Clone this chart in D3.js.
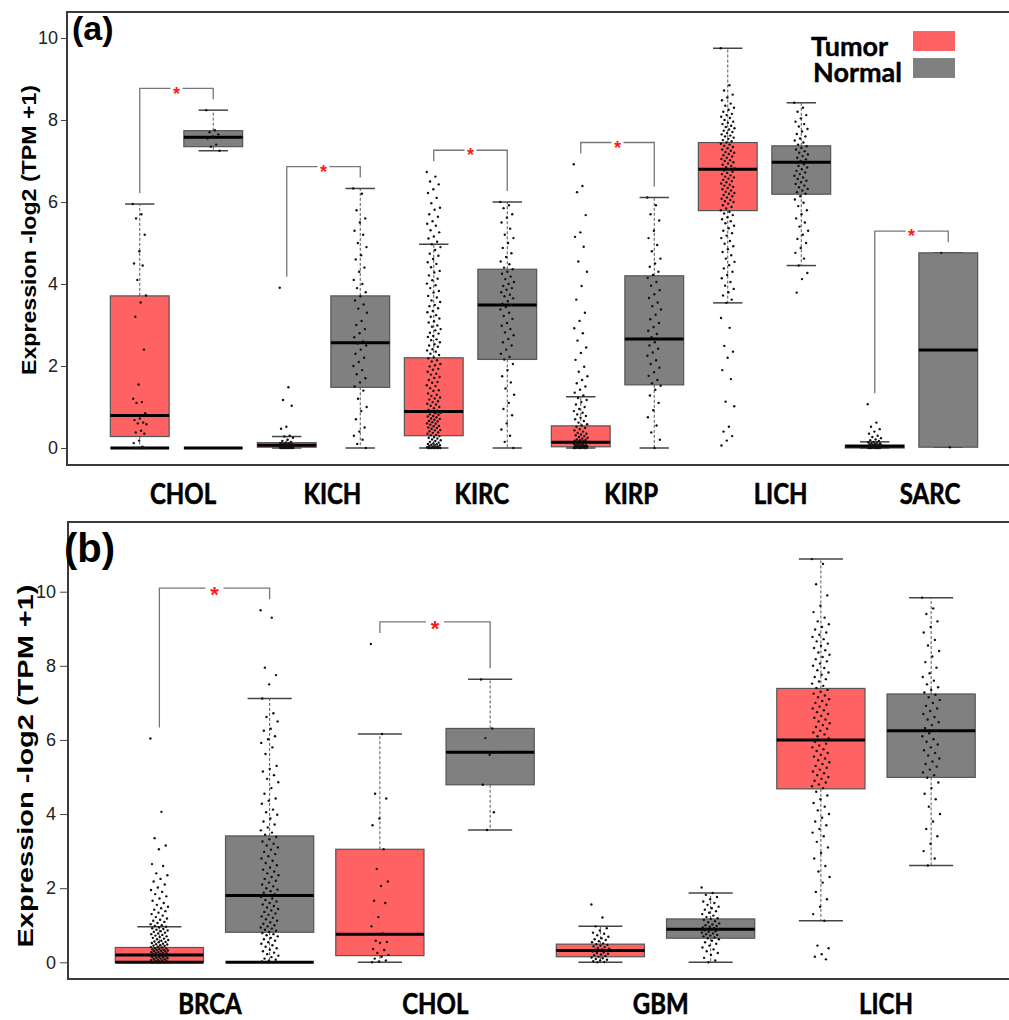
<!DOCTYPE html>
<html>
<head>
<meta charset="utf-8">
<script src="https://cdn.jsdelivr.net/npm/d3@7"></script>
<style>
  body { margin: 0; background: #fff; }
  svg { display: block; }
</style>
</head>
<body>
<svg id="chart" width="1009" height="1020"></svg>
<script>
// ---- data, panel (a) ----
var catsA = ['CHOL', 'KICH', 'KIRC', 'KIRP', 'LICH', 'SARC'];
var groups = ['Tumor', 'Normal'];
// [lower whisker, q1, median, q3, upper whisker]
var tumorBoxA = [
    [0, 0.28, 0.79, 3.71, 5.95],
    [0, 0.02, 0.07, 0.13, 0.28],
    [0, 0.30, 0.89, 2.20, 4.97],
    [0, 0.03, 0.14, 0.54, 1.25],
    [3.54, 5.79, 6.80, 7.45, 9.75],
    [0, 0.00, 0.04, 0.07, 0.15]
];
var normalBoxA = [
    [7.25, 7.35, 7.58, 7.74, 8.24],
    [0, 1.48, 2.57, 3.71, 6.33],
    [0, 2.16, 3.49, 4.36, 6.00],
    [0, 1.54, 2.66, 4.20, 6.11],
    [4.45, 6.19, 6.97, 7.37, 8.42],
    [0.02, 0.02, 2.39, 4.76, 4.76]
];
var tumorPtsA = [
    [5.95, 5.7, 5.6, 5.2, 4.8, 4.5, 4.45, 4.1, 3.72, 3.55, 3.2, 2.4, 1.55, 1.2, 1.12, 1.1, 0.85, 0.72, 0.68, 0.62, 0.6, 0.58, 0.42, 0.38, 0.35, 0.18, 0.12, 0.03, 0, 0, 0, 0, 0],
    [3.91, 1.48, 1.17, 1.03, 0.52, 0.47, 0.3, 0.28, 0.25, 0.2, 0.17, 0.15, 0.13, 0.12, 0.11, 0.1, 0.1, 0.09, 0.09, 0.08, 0.08, 0.07, 0.07, 0.06, 0.06, 0.06, 0.05, 0.05, 0.05, 0.04, 0.04, 0.04, 0.03, 0.03, 0.03, 0.02, 0.02, 0.02, 0.01, 0.01, 0.01, 0.01, 0, 0, 0, 0, 0, 0, 0, 0],
    [6.73, 6.62, 6.5, 6.43, 6.31, 6.22, 6.1, 5.97, 5.86, 5.81, 5.7, 5.64, 5.53, 5.47, 5.42, 5.31, 5.26, 5.16, 5.11, 5.03, 4.97, 4.9, 4.83, 4.74, 4.69, 4.61, 4.53, 4.49, 4.41, 4.32, 4.28, 4.21, 4.13, 4.09, 4.01, 3.97, 3.9, 3.83, 3.79, 3.71, 3.67, 3.6, 3.56, 3.49, 3.46, 3.41, 3.34, 3.31, 3.24, 3.2, 3.16, 3.09, 3.06, 2.99, 2.96, 2.9, 2.87, 2.81, 2.79, 2.73, 2.71, 2.65, 2.63, 2.58, 2.53, 2.5, 2.47, 2.41, 2.38, 2.35, 2.3, 2.27, 2.21, 2.19, 2.14, 2.11, 2.05, 2.02, 1.99, 1.93, 1.91, 1.86, 1.81, 1.79, 1.73, 1.71, 1.66, 1.61, 1.59, 1.53, 1.51, 1.46, 1.41, 1.39, 1.33, 1.3, 1.27, 1.23, 1.21, 1.18, 1.14, 1.12, 1.08, 1.06, 1.03, 1.0, 0.97, 0.93, 0.91, 0.89, 0.86, 0.85, 0.82, 0.81, 0.78, 0.77, 0.75, 0.72, 0.71, 0.69, 0.66, 0.65, 0.63, 0.6, 0.59, 0.57, 0.54, 0.53, 0.5, 0.49, 0.47, 0.44, 0.43, 0.41, 0.38, 0.37, 0.35, 0.32, 0.31, 0.29, 0.27, 0.25, 0.23, 0.21, 0.19, 0.17, 0.15, 0.13, 0.11, 0.1, 0.09, 0.08, 0.07, 0.06, 0.05, 0.04, 0.03, 0.02, 0.02, 0.01, 0.01, 0, 0, 0, 0, 0, 0, 0, 0],
    [6.92, 6.39, 6.24, 5.68, 5.26, 5.15, 4.91, 4.55, 4.3, 3.95, 3.62, 3.3, 3.1, 2.92, 2.8, 2.62, 2.45, 2.32, 2.15, 1.98, 1.86, 1.75, 1.66, 1.58, 1.5, 1.42, 1.35, 1.28, 1.22, 1.17, 1.12, 1.06, 1.0, 0.95, 0.9, 0.86, 0.82, 0.78, 0.74, 0.7, 0.66, 0.62, 0.58, 0.55, 0.52, 0.49, 0.46, 0.43, 0.4, 0.37, 0.35, 0.33, 0.31, 0.29, 0.27, 0.25, 0.23, 0.21, 0.2, 0.19, 0.18, 0.17, 0.16, 0.15, 0.14, 0.13, 0.12, 0.11, 0.1, 0.09, 0.08, 0.07, 0.07, 0.06, 0.05, 0.05, 0.04, 0.04, 0.03, 0.03, 0.02, 0.02, 0.01, 0.01, 0, 0, 0, 0, 0, 0],
    [9.75, 8.85, 8.72, 8.62, 8.55, 8.48, 8.4, 8.35, 8.3, 8.25, 8.2, 8.15, 8.12, 8.08, 8.05, 8.0, 7.96, 7.93, 7.9, 7.86, 7.83, 7.8, 7.77, 7.74, 7.71, 7.68, 7.65, 7.62, 7.6, 7.57, 7.54, 7.51, 7.48, 7.45, 7.42, 7.4, 7.37, 7.34, 7.31, 7.28, 7.25, 7.22, 7.2, 7.17, 7.14, 7.11, 7.08, 7.05, 7.02, 7.0, 6.97, 6.94, 6.91, 6.88, 6.85, 6.82, 6.8, 6.77, 6.74, 6.71, 6.68, 6.65, 6.62, 6.6, 6.57, 6.54, 6.51, 6.48, 6.45, 6.42, 6.4, 6.37, 6.34, 6.31, 6.28, 6.25, 6.22, 6.2, 6.17, 6.14, 6.11, 6.08, 6.05, 6.02, 6.0, 5.96, 5.92, 5.88, 5.84, 5.8, 5.76, 5.72, 5.68, 5.63, 5.58, 5.53, 5.48, 5.42, 5.36, 5.3, 5.24, 5.18, 5.12, 5.05, 4.98, 4.92, 4.85, 4.78, 4.7, 4.62, 4.54, 4.46, 4.38, 4.3, 4.22, 4.14, 4.05, 3.96, 3.88, 3.8, 3.72, 3.62, 3.54, 3.17, 2.93, 2.49, 2.35, 2.2, 1.9, 1.68, 1.13, 1.02, 0.52, 0.4, 0.29, 0.18, 0.06],
    [1.07, 0.62, 0.52, 0.46, 0.4, 0.35, 0.3, 0.27, 0.24, 0.21, 0.19, 0.17, 0.15, 0.14, 0.13, 0.12, 0.11, 0.1, 0.09, 0.08, 0.08, 0.07, 0.07, 0.06, 0.06, 0.05, 0.05, 0.04, 0.04, 0.03, 0.03, 0.02, 0.02, 0.01, 0.01, 0, 0, 0, 0, 0, 0]
];
var normalPtsA = [
    [8.24, 7.75, 7.7, 7.65, 7.6, 7.55, 7.4, 7.35, 7.25],
    [6.33, 6.2, 5.8, 5.6, 5.5, 5.3, 5.2, 5.0, 4.9, 4.7, 4.6, 4.4, 4.3, 4.1, 4.0, 3.9, 3.8, 3.7, 3.6, 3.5, 3.4, 3.3, 3.1, 3.0, 2.9, 2.8, 2.7, 2.6, 2.55, 2.5, 2.4, 2.3, 2.2, 2.1, 2.0, 1.9, 1.8, 1.7, 1.6, 1.5, 1.4, 1.2, 1.0, 0.9, 0.7, 0.5, 0.4, 0.3, 0.2, 0.1, 0],
    [6.0, 5.92, 5.85, 5.7, 5.62, 5.5, 5.35, 5.2, 5.12, 5.0, 4.88, 4.75, 4.66, 4.55, 4.48, 4.4, 4.36, 4.3, 4.25, 4.18, 4.12, 4.05, 4.0, 3.95, 3.9, 3.86, 3.8, 3.74, 3.7, 3.65, 3.58, 3.52, 3.49, 3.44, 3.38, 3.3, 3.22, 3.15, 3.05, 2.98, 2.9, 2.82, 2.75, 2.66, 2.58, 2.5, 2.4, 2.3, 2.22, 2.16, 2.05, 1.9, 1.75, 1.6, 1.45, 1.3, 1.1, 0.95, 0.8, 0.6, 0.45, 0.3, 0.15, 0],
    [6.11, 5.92, 5.7, 5.55, 5.3, 5.12, 4.95, 4.8, 4.62, 4.5, 4.42, 4.3, 4.22, 4.15, 4.05, 3.96, 3.85, 3.75, 3.66, 3.55, 3.46, 3.38, 3.25, 3.14, 3.05, 2.95, 2.86, 2.78, 2.7, 2.65, 2.58, 2.5, 2.42, 2.33, 2.25, 2.14, 2.05, 1.96, 1.85, 1.76, 1.66, 1.58, 1.52, 1.42, 1.28, 1.1, 0.92, 0.75, 0.55, 0.38, 0.2, 0],
    [8.42, 8.3, 8.2, 8.12, 8.04, 7.96, 7.9, 7.84, 7.78, 7.72, 7.66, 7.6, 7.55, 7.5, 7.45, 7.4, 7.36, 7.32, 7.28, 7.24, 7.2, 7.16, 7.12, 7.08, 7.04, 7.0, 6.96, 6.92, 6.88, 6.84, 6.8, 6.76, 6.72, 6.68, 6.64, 6.6, 6.56, 6.52, 6.48, 6.44, 6.4, 6.36, 6.32, 6.28, 6.24, 6.2, 6.14, 6.06, 5.98, 5.9, 5.8, 5.7, 5.6, 5.5, 5.4, 5.3, 5.2, 5.1, 5.0, 4.88, 4.76, 4.62, 4.45, 4.27, 4.12, 3.79],
    [4.76, 0.02]
];
var sigA = ['CHOL', 'KICH', 'KIRC', 'KIRP', 'SARC'];
var zeroBarA = ['CHOL|Tumor', 'CHOL|Normal'];

// ---- data, panel (b) ----
var catsB = ['BRCA', 'CHOL', 'GBM', 'LICH'];
var tumorBoxB = [
    [0, 0.00, 0.20, 0.40, 0.96],
    [0, 0.18, 0.76, 3.05, 6.16],
    [0, 0.15, 0.32, 0.49, 0.97],
    [1.12, 4.68, 6.00, 7.39, 10.88]
];
var normalBoxB = [
    [0, 0.81, 1.80, 3.41, 7.12],
    [3.57, 4.79, 5.67, 6.31, 7.64],
    [0, 0.65, 0.89, 1.17, 1.87],
    [2.61, 4.99, 6.25, 7.24, 9.84]
];
var tumorPtsB = [
    [6.04, 4.06, 3.35, 3.15, 3.05, 2.65, 2.6, 2.4, 2.35, 2.25, 2.18, 2.1, 2.02, 1.95, 1.9, 1.84, 1.78, 1.72, 1.66, 1.6, 1.55, 1.5, 1.46, 1.42, 1.38, 1.34, 1.3, 1.26, 1.22, 1.18, 1.15, 1.12, 1.09, 1.06, 1.03, 1.0, 0.98, 0.96, 0.94, 0.92, 0.9, 0.88, 0.86, 0.84, 0.82, 0.8, 0.78, 0.76, 0.74, 0.72, 0.7, 0.68, 0.66, 0.64, 0.62, 0.6, 0.58, 0.56, 0.55, 0.54, 0.52, 0.5, 0.49, 0.48, 0.46, 0.45, 0.44, 0.42, 0.41, 0.4, 0.38, 0.37, 0.36, 0.35, 0.34, 0.33, 0.32, 0.31, 0.3, 0.29, 0.28, 0.27, 0.26, 0.25, 0.24, 0.23, 0.22, 0.21, 0.2, 0.19, 0.18, 0.17, 0.16, 0.15, 0.14, 0.13, 0.12, 0.11, 0.1, 0.09, 0.08, 0.07, 0.06, 0.05, 0.04, 0.03, 0.02, 0.01, 0, 0, 0, 0, 0, 0, 0, 0],
    [8.59, 6.16, 4.55, 4.42, 3.88, 3.7, 3.05, 2.52, 2.18, 2.06, 1.66, 1.6, 1.22, 0.97, 0.78, 0.58, 0.55, 0.52, 0.36, 0.33, 0.25, 0.2, 0.15, 0.1, 0.05, 0.02, 0],
    [1.56, 1.21, 0.97, 0.92, 0.86, 0.8, 0.77, 0.73, 0.69, 0.65, 0.62, 0.6, 0.57, 0.54, 0.51, 0.49, 0.47, 0.45, 0.43, 0.41, 0.39, 0.37, 0.35, 0.34, 0.32, 0.31, 0.29, 0.27, 0.25, 0.23, 0.21, 0.19, 0.17, 0.15, 0.13, 0.11, 0.09, 0.07, 0.05, 0.03, 0.01, 0],
    [10.88, 10.75, 10.2, 9.9, 9.62, 9.45, 9.3, 9.2, 9.12, 9.05, 8.98, 8.9, 8.84, 8.78, 8.72, 8.66, 8.6, 8.54, 8.48, 8.42, 8.36, 8.3, 8.24, 8.18, 8.12, 8.06, 8.0, 7.94, 7.88, 7.82, 7.76, 7.7, 7.64, 7.58, 7.52, 7.46, 7.4, 7.35, 7.3, 7.25, 7.2, 7.15, 7.1, 7.05, 7.0, 6.95, 6.9, 6.85, 6.8, 6.75, 6.7, 6.65, 6.6, 6.55, 6.5, 6.45, 6.4, 6.35, 6.3, 6.25, 6.2, 6.15, 6.1, 6.05, 6.0, 5.95, 5.9, 5.85, 5.8, 5.75, 5.7, 5.65, 5.6, 5.55, 5.5, 5.45, 5.4, 5.35, 5.3, 5.25, 5.2, 5.15, 5.1, 5.05, 5.0, 4.95, 4.9, 4.85, 4.8, 4.75, 4.7, 4.6, 4.5, 4.4, 4.3, 4.2, 4.1, 4.0, 3.9, 3.8, 3.7, 3.6, 3.5, 3.4, 3.25, 3.1, 2.95, 2.8, 2.6, 2.45, 2.3, 2.15, 1.9, 1.7, 1.5, 1.3, 1.12, 0.45, 0.38, 0.22, 0.15, 0.08]
];
var normalPtsB = [
    [9.5, 9.3, 7.95, 7.75, 7.5, 7.12, 6.72, 6.62, 6.5, 6.3, 6.25, 6.1, 6.02, 5.92, 5.8, 5.62, 5.3, 5.22, 5.15, 5.05, 4.95, 4.86, 4.7, 4.55, 4.42, 4.36, 4.28, 4.12, 4.05, 3.98, 3.88, 3.8, 3.72, 3.64, 3.56, 3.5, 3.44, 3.38, 3.32, 3.26, 3.2, 3.15, 3.1, 3.04, 2.98, 2.92, 2.86, 2.8, 2.74, 2.68, 2.62, 2.56, 2.5, 2.45, 2.4, 2.35, 2.3, 2.25, 2.2, 2.15, 2.1, 2.05, 2.0, 1.96, 1.92, 1.88, 1.84, 1.8, 1.76, 1.72, 1.68, 1.64, 1.6, 1.56, 1.52, 1.48, 1.44, 1.4, 1.36, 1.32, 1.28, 1.24, 1.2, 1.16, 1.12, 1.08, 1.04, 1.0, 0.97, 0.94, 0.91, 0.88, 0.85, 0.82, 0.79, 0.76, 0.73, 0.7, 0.66, 0.62, 0.58, 0.54, 0.5, 0.46, 0.42, 0.38, 0.34, 0.3, 0.26, 0.22, 0.18, 0.14, 0.1, 0.07, 0.04, 0.02, 0],
    [7.63, 6.31, 6.05, 5.67, 5.6, 4.79, 4.05, 3.57],
    [2.02, 1.87, 1.82, 1.76, 1.7, 1.64, 1.6, 1.55, 1.5, 1.46, 1.42, 1.38, 1.34, 1.3, 1.26, 1.22, 1.19, 1.17, 1.14, 1.11, 1.08, 1.05, 1.02, 1.0, 0.98, 0.96, 0.94, 0.92, 0.9, 0.89, 0.88, 0.86, 0.84, 0.82, 0.8, 0.78, 0.76, 0.74, 0.72, 0.7, 0.67, 0.65, 0.62, 0.58, 0.54, 0.5, 0.45, 0.4, 0.35, 0.3, 0.25, 0.2, 0.12, 0.05, 0],
    [9.84, 9.55, 9.4, 9.2, 9.05, 8.9, 8.7, 8.55, 8.4, 8.25, 8.1, 7.95, 7.8, 7.7, 7.6, 7.5, 7.42, 7.35, 7.28, 7.22, 7.15, 7.08, 7.0, 6.92, 6.85, 6.78, 6.7, 6.62, 6.55, 6.48, 6.4, 6.32, 6.25, 6.18, 6.1, 6.02, 5.95, 5.88, 5.8, 5.72, 5.65, 5.58, 5.5, 5.42, 5.35, 5.28, 5.2, 5.12, 5.05, 4.98, 4.85, 4.7, 4.55, 4.4, 4.2, 4.0, 3.8, 3.6, 3.4, 3.2, 3.0, 2.8, 2.61]
];
var sigB = ['BRCA', 'CHOL'];
var zeroBarB = ['BRCA|Tumor', 'BRCA|Normal'];

var yTicks = [0, 2, 4, 6, 8, 10];
var colors = {Tumor: '#ff6262', Normal: '#808080'};

var svg = d3.select('#chart');

function drawPanel(p) {
    var g = svg.append('g');

    var y = d3.scaleLinear().domain([0, 10]).range(p.yRange);
    var x = d3.scaleBand().domain(p.cats).range(p.xRange);
    var inner = d3.scaleBand().domain(groups).range([-x.step() / 2, x.step() / 2]);
    var bw = inner.bandwidth() * 0.8;
    var labelX = d3.scalePoint().domain(p.cats).range(p.labelRange);
    var topVal = y.invert(p.frame.top);

    function cx(cat, grp) {
        return x(cat) + x.bandwidth() / 2 + inner(grp) + inner.bandwidth() / 2;
    }

    // frame: left, top, bottom
    g.append('path')
        .attr('d', 'M1009,' + p.frame.top + 'H' + p.frame.left + 'V' + p.frame.bottom + 'H1009')
        .attr('fill', 'none')
        .attr('stroke', '#3a3a3a')
        .attr('stroke-width', 2);

    // y axis
    var ax = g.append('g')
        .attr('transform', 'translate(' + p.frame.left + ',0)')
        .call(d3.axisLeft(y).tickValues(yTicks).tickSize(p.tickSize).tickPadding(p.tickPad));
    ax.select('.domain').remove();
    ax.selectAll('line').attr('stroke', '#444');
    ax.selectAll('text')
        .attr('fill', '#222')
        .style('font', '18px "Liberation Sans", Arial, sans-serif');

    // y label
    g.append('text')
        .attr('transform', 'translate(' + p.yLabel.x + ',' + p.yLabel.cy + ') rotate(-90)')
        .attr('text-anchor', 'middle')
        .attr('textLength', p.yLabel.len)
        .attr('lengthAdjust', 'spacingAndGlyphs')
        .style('font', 'bold ' + p.yLabel.size + 'px "Liberation Sans", Arial, sans-serif')
        .text('Expression -log2 (TPM +1)');

    // panel tag
    g.append('text')
        .attr('x', p.tag.x)
        .attr('y', p.tag.y)
        .style('font', 'bold ' + p.tag.size + 'px "Liberation Sans", Arial, sans-serif')
        .text(p.tag.text);

    // category labels, stretched a little vertically like the original
    g.selectAll('.cat')
        .data(p.cats)
        .enter().append('text')
        .attr('class', 'cat')
        .attr('transform', function (d) { return 'translate(' + labelX(d) + ',' + p.labelY + ') scale(1,1.15)'; })
        .attr('text-anchor', 'middle')
        .attr('stroke', '#000')
        .attr('stroke-width', 0.5)
        .style('font', 'bold ' + p.labelSize + 'px Lato, "Open Sans", sans-serif')
        .text(function (d) { return d; });

    // flatten boxes
    var boxes = [];
    p.cats.forEach(function (c, i) {
        boxes.push({cat: c, grp: 'Tumor', s: p.tumorBox[i], pts: p.tumorPts[i]});
        boxes.push({cat: c, grp: 'Normal', s: p.normalBox[i], pts: p.normalPts[i]});
    });

    var bx = g.selectAll('.box')
        .data(boxes)
        .enter().append('g')
        .attr('class', 'box')
        .attr('transform', function (d) { return 'translate(' + cx(d.cat, d.grp) + ',0)'; });

    // whiskers (dashed)
    bx.append('line')
        .attr('y1', function (d) { return y(d.s[3]); })
        .attr('y2', function (d) { return y(d.s[4]); })
        .attr('stroke', '#555').attr('stroke-dasharray', '3,2');
    bx.append('line')
        .attr('y1', function (d) { return y(d.s[1]); })
        .attr('y2', function (d) { return y(d.s[0]); })
        .attr('stroke', '#555').attr('stroke-dasharray', '3,2');

    // caps
    [0, 4].forEach(function (k) {
        bx.append('line')
            .attr('x1', -bw / 4).attr('x2', bw / 4)
            .attr('y1', function (d) { return y(d.s[k]); })
            .attr('y2', function (d) { return y(d.s[k]); })
            .attr('stroke', '#444').attr('stroke-width', 1.5);
    });

    // box
    bx.append('rect')
        .attr('x', -bw / 2)
        .attr('width', bw)
        .attr('y', function (d) { return y(d.s[3]); })
        .attr('height', function (d) { return Math.max(0.5, y(d.s[1]) - y(d.s[3])); })
        .attr('fill', function (d) { return colors[d.grp]; })
        .attr('stroke', '#555')
        .attr('stroke-width', 1.2);

    // median
    bx.append('line')
        .attr('x1', -bw / 2).attr('x2', bw / 2)
        .attr('y1', function (d) { return y(d.s[2]); })
        .attr('y2', function (d) { return y(d.s[2]); })
        .attr('stroke', '#000').attr('stroke-width', 3);

    // heavy bar at zero for groups piled at 0
    bx.filter(function (d) { return p.zeroBars.indexOf(d.cat + '|' + d.grp) >= 0; })
        .append('line')
        .attr('x1', -bw / 2).attr('x2', bw / 2)
        .attr('y1', y(0)).attr('y2', y(0))
        .attr('stroke', '#000').attr('stroke-width', 3);

    // jittered points
    bx.selectAll('circle')
        .data(function (d) { return d.pts; })
        .enter().append('circle')
        .attr('cx', function (v, i) { return (((i * 0.6180339887) % 1) - 0.5) * p.jitter; })
        .attr('cy', function (v) { return y(v); })
        .attr('r', 1.2)
        .attr('fill', '#111');

    // significance brackets
    var pad = 0.025 * topVal;
    p.sig.forEach(function (c) {
        var i = p.cats.indexOf(c);
        var mt = d3.max([p.tumorBox[i][4], d3.max(p.tumorPts[i])]);
        var mn = d3.max([p.normalBox[i][4], d3.max(p.normalPts[i])]);
        var x1 = cx(c, 'Tumor'), x2 = cx(c, 'Normal');
        var yt = y(Math.max(mt, mn) + 2 * pad);
        var mid = (x1 + x2) / 2;
        g.append('path')
            .attr('d', 'M' + x1 + ',' + y(mt + pad) + 'V' + yt + 'H' + (mid - p.gap))
            .attr('fill', 'none').attr('stroke', '#777').attr('stroke-width', 1.3);
        g.append('path')
            .attr('d', 'M' + (mid + p.gap) + ',' + yt + 'H' + x2 + 'V' + y(mn + pad))
            .attr('fill', 'none').attr('stroke', '#777').attr('stroke-width', 1.3);
        g.append('text')
            .attr('x', mid)
            .attr('y', yt + p.starSize * 0.62)
            .attr('text-anchor', 'middle')
            .attr('fill', '#ff1a1a')
            .style('font', 'bold ' + p.starSize + 'px "Liberation Sans", Arial, sans-serif')
            .text('*');
    });
}

drawPanel({
    cats: catsA, tumorBox: tumorBoxA, normalBox: normalBoxA,
    tumorPts: tumorPtsA, normalPts: normalPtsA,
    sig: sigA, zeroBars: zeroBarA,
    frame: {left: 67, top: 12, bottom: 465},
    yRange: [448, 38], xRange: [103, 985],
    labelRange: [183, 930], labelY: 504, labelSize: 24,
    tickSize: 6, tickPad: 3,
    yLabel: {x: 36, cy: 230, len: 290, size: 20},
    tag: {x: 72, y: 40, size: 34, text: '(a)'},
    jitter: 14, gap: 6, starSize: 18
});

drawPanel({
    cats: catsB, tumorBox: tumorBoxB, normalBox: normalBoxB,
    tumorPts: tumorPtsB, normalPts: normalPtsB,
    sig: sigB, zeroBars: zeroBarB,
    frame: {left: 68, top: 522, bottom: 979},
    yRange: [962.3, 591.7], xRange: [104.25, 986.25],
    labelRange: [210, 886], labelY: 1014, labelSize: 24,
    tickSize: 8, tickPad: 4,
    yLabel: {x: 33, cy: 766, len: 363, size: 22},
    tag: {x: 64, y: 562, size: 40, text: '(b)'},
    jitter: 18, gap: 9, starSize: 22
});

// legend
var legend = svg.append('g').attr('transform', 'translate(811,0)');
legend.selectAll('rect')
    .data(groups)
    .enter().append('rect')
    .attr('x', 102)
    .attr('y', function (d, i) { return 31 + i * 27; })
    .attr('width', 42)
    .attr('height', 20)
    .attr('fill', function (d) { return colors[d]; });
legend.selectAll('text')
    .data(groups)
    .enter().append('text')
    .attr('x', function (d, i) { return i * 2; })
    .attr('y', function (d, i) { return 56 + i * 26; })
    .attr('stroke', '#000')
    .attr('stroke-width', 0.4)
    .style('font', 'bold 27px Lato, "Open Sans", sans-serif')
    .text(function (d) { return d; });
</script>
</body>
</html>
